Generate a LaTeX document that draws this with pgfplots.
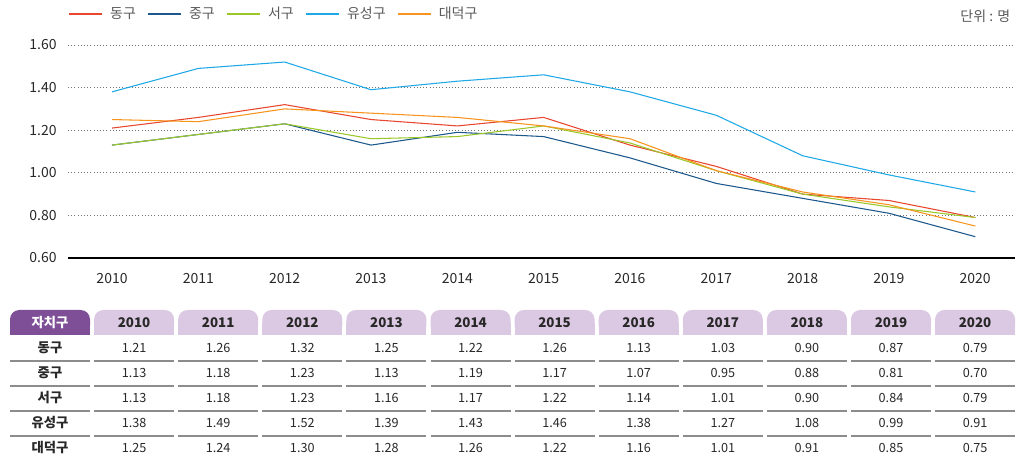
\documentclass[border=0pt]{standalone}
\usepackage{fontspec}
\setmainfont{Noto Sans CJK KR}
\usepackage{pgfplots}
\usepackage{pgfplotstable}
\pgfplotsset{compat=1.18}

\definecolor{cDong}{RGB}{232,70,45}
\definecolor{cJung}{RGB}{28,88,140}
\definecolor{cSeo}{RGB}{155,200,40}
\definecolor{cYu}{RGB}{30,168,230}
\definecolor{cDae}{RGB}{247,148,30}
\definecolor{tabDark}{RGB}{126,78,150}
\definecolor{tabLight}{RGB}{219,200,226}
\definecolor{txt}{RGB}{40,40,40}

% year, 동구, 중구, 서구, 유성구, 대덕구
\pgfplotstableread{
year dong jung seo yu dae
2010 1.21 1.13 1.13 1.38 1.25
2011 1.26 1.18 1.18 1.49 1.24
2012 1.32 1.23 1.23 1.52 1.30
2013 1.25 1.13 1.16 1.39 1.28
2014 1.22 1.19 1.17 1.43 1.26
2015 1.26 1.17 1.22 1.46 1.22
2016 1.13 1.07 1.14 1.38 1.16
2017 1.03 0.95 1.01 1.27 1.01
2018 0.90 0.88 0.90 1.08 0.91
2019 0.87 0.81 0.84 0.99 0.85
2020 0.79 0.70 0.79 0.91 0.75
}\rates

\begin{document}
\begin{tikzpicture}
\begin{scope}[x=0.75pt,y=0.75pt]
\useasboundingbox (0,0) rectangle (1019,459);
\end{scope}

\begin{axis}[
  at={(51pt,150.75pt)}, anchor=south west,
  scale only axis, width=710.25pt, height=159.75pt,
  xmin=2009.49, xmax=2020.46, ymin=0.6, ymax=1.6,
  xtick={2010,...,2020}, ytick={0.6,0.8,1.0,1.2,1.4,1.6},
  axis x line*=bottom, axis y line*=left,
  y axis line style={draw=none},
  x axis line style={black, line width=1.2pt},
  major tick length=0pt,
  ymajorgrids, grid style={black!55, dotted, line width=0.6pt},
  /pgf/number format/assume math mode=true,
  tick label style={font=\fontsize{10.5}{12}\selectfont, text=txt},
  yticklabel style={/pgf/number format/fixed, /pgf/number format/fixed zerofill,
    /pgf/number format/precision=2, xshift=-5pt},
  xticklabel style={/pgf/number format/1000 sep={}, yshift=-8pt},
  legend columns=5,
  legend style={at={(0,1)}, anchor=south west, yshift=14pt, xshift=-3pt,
    draw=none, fill=none, font=\fontsize{10.5}{12}\selectfont,
    /tikz/every even column/.append style={column sep=6.5pt}},
  legend image code/.code={\draw[#1, line width=1pt] (0pt,0pt) -- (25pt,0pt);
    \path (28.5pt,0pt);},
  every axis plot/.append style={line width=0.8pt, mark=none},
]
\addplot[cDong] table[x=year, y=dong] {\rates}; \addlegendentry{\textcolor{black!65}{동구}}
\addplot[cJung] table[x=year, y=jung] {\rates}; \addlegendentry{\textcolor{black!65}{중구}}
\addplot[cSeo]  table[x=year, y=seo]  {\rates}; \addlegendentry{\textcolor{black!65}{서구}}
\addplot[cYu]   table[x=year, y=yu]   {\rates}; \addlegendentry{\textcolor{black!65}{유성구}}
\addplot[cDae]  table[x=year, y=dae]  {\rates}; \addlegendentry{\textcolor{black!65}{대덕구}}
\end{axis}

\begin{scope}[x=0.75pt,y=0.75pt]
\node[anchor=east, font=\fontsize{10.5}{12}\selectfont, text=black!65] at (1015,443) {단위 : 명};

% ===== table =====
\foreach \i in {0,...,11} {
  \pgfmathsetmacro\xa{10+84.1*\i}
  \pgfmathsetmacro\xb{\xa+80}
  \ifnum\i=0 \def\tc{tabDark}\else\def\tc{tabLight}\fi
  \fill[\tc, rounded corners=7pt] (\xa,124) rectangle (\xb,149);
  \fill[\tc] (\xa,124) rectangle (\xb,136);
  \foreach \yy in {98,73,48,23}
    \draw[black!45, line width=1.1pt] (\xa,\yy) -- (\xb,\yy);
}
\node[font=\fontsize{10}{12}\selectfont\bfseries, text=white] at (50,136.5) {자치구};
\foreach \yr [count=\c] in {2010,...,2020}
  \node[font=\fontsize{10}{12}\selectfont\bfseries, text=txt] at ({50+84.1*\c},136.5) {\yr};

\tikzset{rowlab/.style={font=\fontsize{10}{12}\selectfont\bfseries, text=txt},
         val/.style={font=\fontsize{9.5}{12}\selectfont, text=txt}}
\node[rowlab] at (50,111) {동구};
\node[rowlab] at (50,86) {중구};
\node[rowlab] at (50,61) {서구};
\node[rowlab] at (50,36) {유성구};
\node[rowlab] at (50,11) {대덕구};
\foreach \v [count=\c] in {1.21,1.26,1.32,1.25,1.22,1.26,1.13,1.03,0.90,0.87,0.79}
  \node[val] at ({50+84.1*\c},111) {\v};
\foreach \v [count=\c] in {1.13,1.18,1.23,1.13,1.19,1.17,1.07,0.95,0.88,0.81,0.70}
  \node[val] at ({50+84.1*\c},86) {\v};
\foreach \v [count=\c] in {1.13,1.18,1.23,1.16,1.17,1.22,1.14,1.01,0.90,0.84,0.79}
  \node[val] at ({50+84.1*\c},61) {\v};
\foreach \v [count=\c] in {1.38,1.49,1.52,1.39,1.43,1.46,1.38,1.27,1.08,0.99,0.91}
  \node[val] at ({50+84.1*\c},36) {\v};
\foreach \v [count=\c] in {1.25,1.24,1.30,1.28,1.26,1.22,1.16,1.01,0.91,0.85,0.75}
  \node[val] at ({50+84.1*\c},11) {\v};
\end{scope}
\end{tikzpicture}
\end{document}
